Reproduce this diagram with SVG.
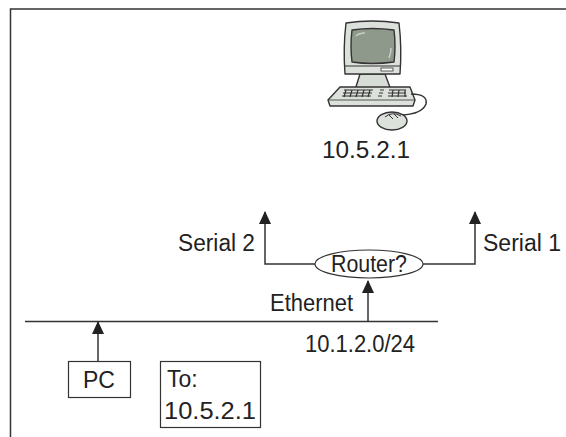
<svg xmlns="http://www.w3.org/2000/svg" width="566" height="437" viewBox="0 0 566 437">
  <style>
    text { font-family: "Liberation Sans", Arial, sans-serif; font-size: 23px; fill: #222; }
    .ln { stroke: #333; stroke-width: 1.5; fill: none; }
    .box { stroke: #333; stroke-width: 1.2; fill: #fff; }
    .pc { stroke: #333; stroke-width: 1.4; stroke-linejoin: round; }
  </style>
  <defs>
    <marker id="arrow" viewBox="0 0 13 12" refX="12" refY="6" markerWidth="13" markerHeight="12" markerUnits="userSpaceOnUse" orient="auto">
      <path d="M0 0 L13 6 L0 12 Z" fill="#222"/>
    </marker>
  </defs>

  <rect width="566" height="437" fill="#fff"/>

  <!-- frame: top and left edge -->
  <path class="ln" d="M10.5 437 V9 H566" stroke-width="2"/>

  <!-- workstation clip-art -->
  <g id="workstation">
    <!-- stand -->
    <path class="pc" d="M360 74 L355 90 H391 L385 74 Z" fill="#d8dcd6"/>
    <!-- monitor -->
    <path class="pc" d="M346 23 Q372 19 399 23 Q402 48 400 74 H345 Q343 48 346 23 Z" fill="#dde1dc"/>
    <path class="pc" d="M352 30 Q372 27 394 30 Q396 46 394 62 Q372 65 352 62 Q350 46 352 30 Z" fill="#8e998c"/>
    <path d="M356 36 Q359 33 365 33" stroke="#c8cec6" stroke-width="1.5" fill="none"/>
    <path d="M389 58 Q391 53 391 48" stroke="#c8cec6" stroke-width="1.5" fill="none"/>
    <line x1="345" y1="66" x2="400" y2="66" stroke="#333" stroke-width="1"/>
    <rect x="381" y="68" width="12" height="3" fill="#fff" stroke="#333" stroke-width="0.8"/>
    <!-- keyboard -->
    <path class="pc" d="M340 87 H410 L415 100 L413 106 H330 L328 100 Z" fill="#dde1dc"/>
    <line x1="328" y1="100" x2="415" y2="100" stroke="#333" stroke-width="0.8"/>
    <g stroke="#333" stroke-width="1.2">
      <path d="M344 90 H373 M343 93 H372 M342 96 H371"/>
      <path d="M346 90 L344 97 M352 90 L350 97 M358 90 L356 97 M364 90 L362 97 M370 90 L368 97"/>
      <path d="M380 90 H384 M379 93 H383 M378 96 H382"/>
      <path d="M389 90 H406 M388 93 H406 M388 96 H407"/>
      <path d="M393 90 L392 97 M399 90 L398 97 M405 90 L405 97"/>
    </g>
    <!-- cord -->
    <path d="M411 94 Q428 94 426 104 Q422 114 402 115" stroke="#333" stroke-width="1.5" fill="none"/>
    <!-- mouse -->
    <ellipse class="pc" cx="392" cy="121" rx="15" ry="9" fill="#dde1dc"/>
    <path d="M385 117 Q392 111 401 116" stroke="#333" stroke-width="1" fill="none"/>
    <path d="M389 115 L393 119 M394 114 L398 118" stroke="#333" stroke-width="1"/>
  </g>
  <text x="322" y="158" textLength="88" lengthAdjust="spacingAndGlyphs">10.5.2.1</text>

  <!-- connectors -->
  <g id="connectors">
    <!-- ethernet segment -->
    <line class="ln" x1="25" y1="321.5" x2="438" y2="321.5"/>
    <!-- PC to segment -->
    <line class="ln" x1="98" y1="361" x2="98" y2="322" marker-end="url(#arrow)"/>
    <!-- segment to router -->
    <line class="ln" x1="368" y1="321" x2="368" y2="281" marker-end="url(#arrow)"/>
    <!-- router to serial 2 -->
    <polyline class="ln" points="315,264 265,264 265,212" marker-end="url(#arrow)"/>
    <!-- router to serial 1 -->
    <polyline class="ln" points="423,264 475,264 475,212" marker-end="url(#arrow)"/>
  </g>

  <g id="router">
    <ellipse class="box" cx="369" cy="264" rx="54" ry="14"/>
    <text x="369" y="272" text-anchor="middle" textLength="76" lengthAdjust="spacingAndGlyphs">Router?</text>
  </g>

  <text x="178" y="251" textLength="77" lengthAdjust="spacingAndGlyphs">Serial 2</text>
  <text x="483" y="251" textLength="78" lengthAdjust="spacingAndGlyphs">Serial 1</text>
  <text x="270" y="311" textLength="83" lengthAdjust="spacingAndGlyphs">Ethernet</text>
  <text x="305" y="352" textLength="110" lengthAdjust="spacingAndGlyphs">10.1.2.0/24</text>

  <g id="pc">
    <rect class="box" x="68.5" y="361.5" width="62" height="36"/>
    <text x="99" y="388" text-anchor="middle">PC</text>
  </g>

  <g id="packet">
    <rect class="box" x="160.5" y="361.5" width="100" height="66"/>
    <text x="167" y="387">To:</text>
    <text x="164" y="419" textLength="92" lengthAdjust="spacingAndGlyphs">10.5.2.1</text>
  </g>
</svg>
